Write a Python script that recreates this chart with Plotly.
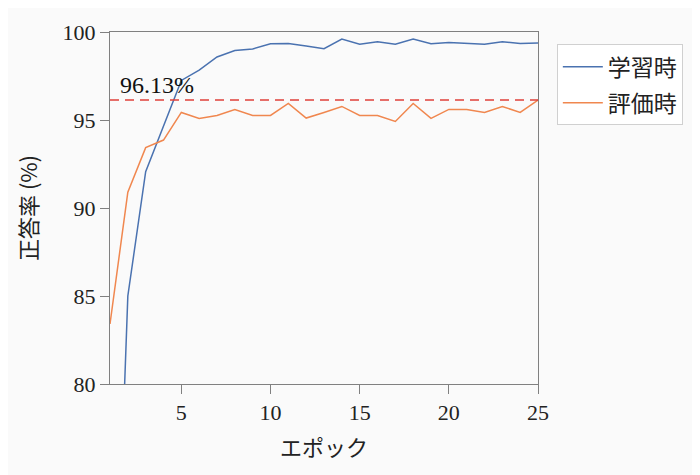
import plotly.graph_objects as go

epochs = list(range(1, 26))
train_acc = [57.0, 85.0, 92.06, 94.6, 97.25, 97.83, 98.58, 98.95, 99.04, 99.33,
             99.35, 99.2, 99.05, 99.6, 99.3, 99.45, 99.3, 99.6, 99.33, 99.4,
             99.35, 99.3, 99.45, 99.35, 99.38]
eval_acc = [83.41, 90.9, 93.43, 93.86, 95.43, 95.09, 95.26, 95.6, 95.26, 95.26,
            95.94, 95.11, 95.43, 95.77, 95.26, 95.26, 94.92, 95.94, 95.09, 95.6,
            95.6, 95.43, 95.77, 95.43, 96.13]
series_names = ["学習時", "評価時"]
best_eval = 96.13
best_label = "96.13%"

serif = "Liberation Serif"
sans = "Noto Sans CJK JP"

fig = go.Figure()
fig.add_trace(go.Scatter(x=epochs, y=train_acc, mode="lines", name=series_names[0],
                         line=dict(color="#4a72b0", width=1.5), legendgroup="a"))
fig.add_trace(go.Scatter(x=epochs, y=eval_acc, mode="lines", name=series_names[1],
                         line=dict(color="#f0874f", width=1.5), legendgroup="b"))

fig.add_shape(type="line", xref="paper", x0=0, x1=1, yref="y", y0=best_eval, y1=best_eval,
              line=dict(color="#e0403a", width=1.5, dash="9px,6px"))
fig.add_annotation(x=1.45, y=best_eval, xref="x", yref="y", text=best_label,
                   showarrow=False, xanchor="left", yanchor="bottom",
                   font=dict(family=serif, size=24, color="#111"))

axis_common = dict(showgrid=False, zeroline=False, showline=True, linecolor="#808080",
                   linewidth=1, mirror=True, ticks="outside", ticklen=9,
                   tickcolor="#808080", tickfont=dict(family=serif, size=22, color="#222"))

fig.update_xaxes(range=[1, 25], tickvals=[5, 10, 15, 20, 25],
                 title=dict(text="エポック", font=dict(family=sans, size=22, color="#222"), standoff=16),
                 **axis_common)
fig.update_yaxes(range=[80, 100], tickvals=[80, 85, 90, 95, 100],
                 title=dict(text="正答率 (%)", font=dict(family=sans, size=22, color="#222"), standoff=18),
                 **axis_common)

fig.update_layout(
    width=700, height=475,
    margin=dict(l=102, r=170, t=20, b=99),
    paper_bgcolor="#fafafa", plot_bgcolor="#fafafa",
    showlegend=True,
    legend=dict(x=1.044, y=0.965, xanchor="left", yanchor="top",
                bgcolor="#ffffff", bordercolor="#d0d0d0", borderwidth=1,
                font=dict(family=sans, size=23, color="#222"),
                itemwidth=40, tracegroupgap=3, traceorder="grouped"),
)

fig.write_html("out.html")
